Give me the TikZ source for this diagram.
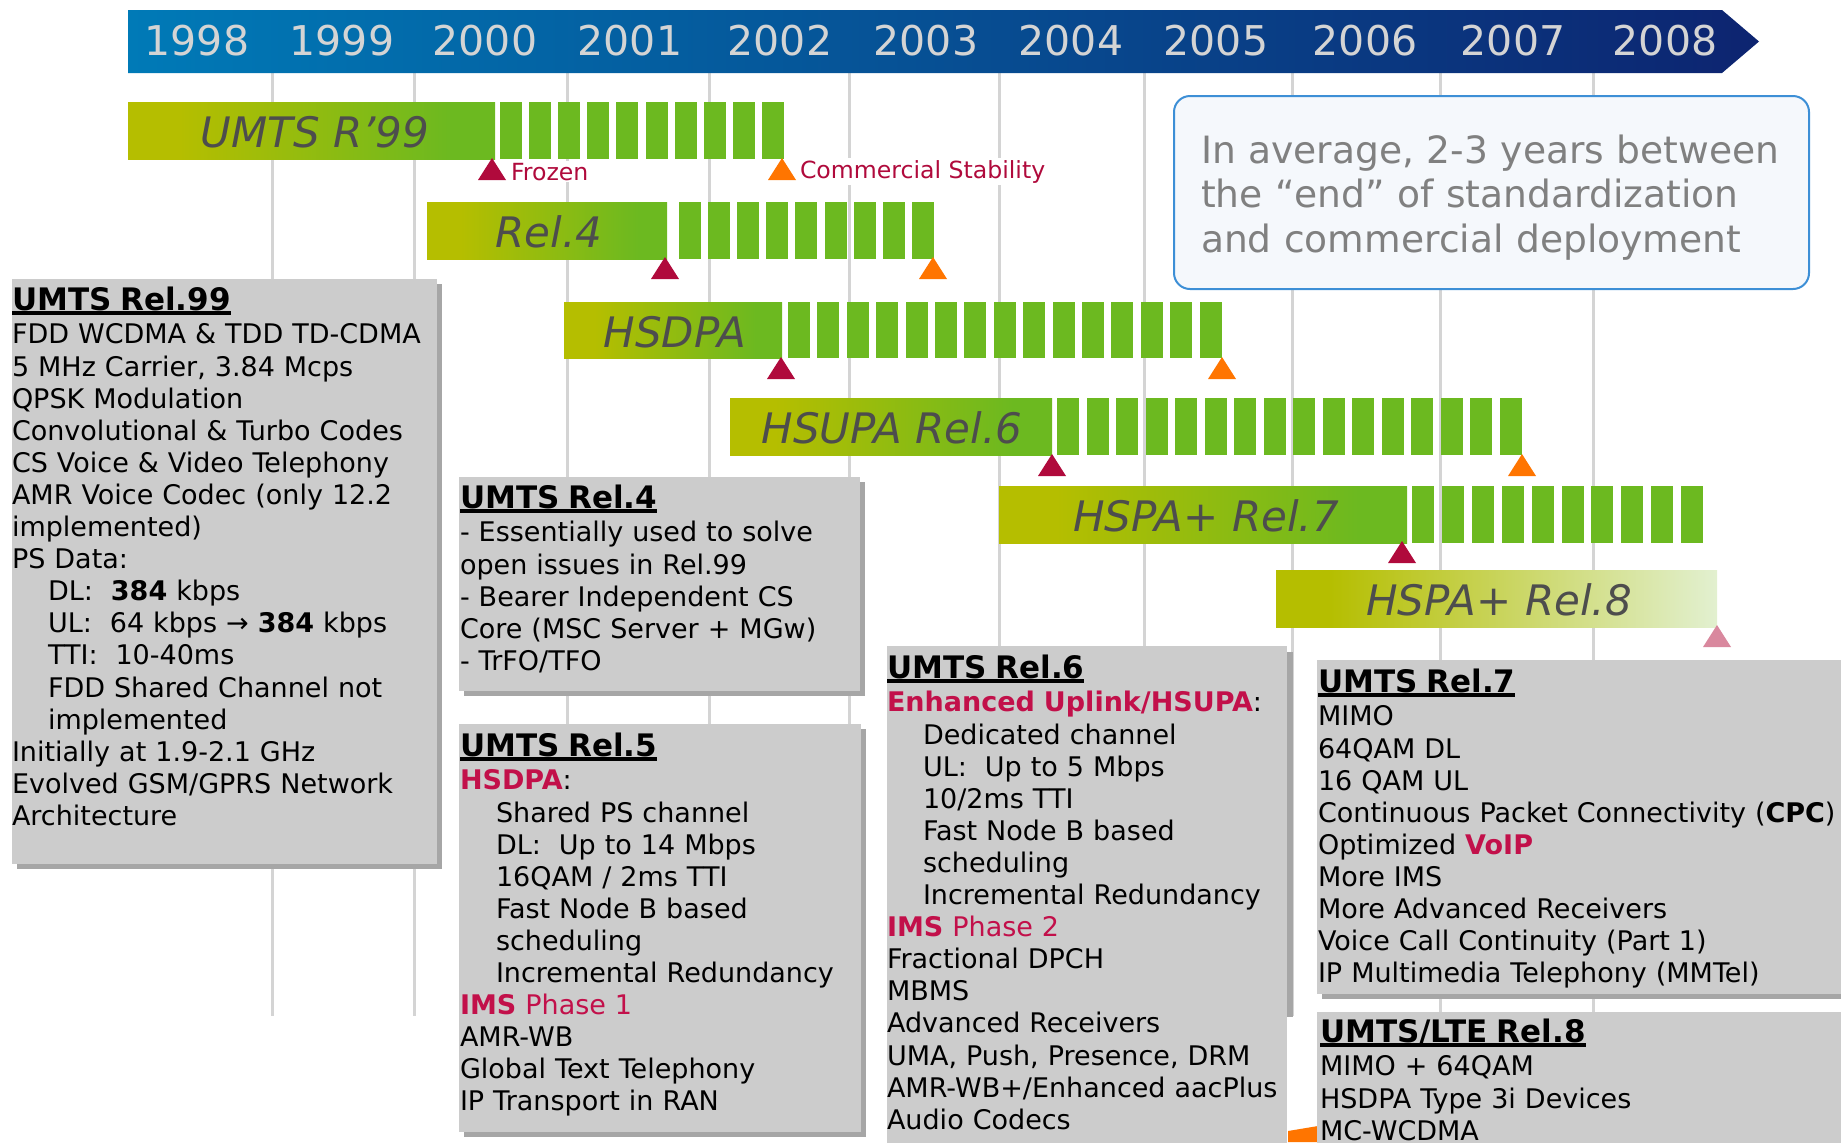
\documentclass[tikz,border=0pt]{standalone}
\usepackage{fontspec}
\setmainfont{DejaVu Sans}

\definecolor{bandL}{RGB}{0,122,183}
\definecolor{bandR}{RGB}{13,36,112}
\definecolor{barY}{RGB}{181,190,0}
\definecolor{barG}{RGB}{108,185,32}
\definecolor{barPale}{RGB}{226,240,208}
\definecolor{frozenred}{RGB}{176,10,60}
\definecolor{stableorange}{RGB}{255,117,0}
\definecolor{futurepink}{RGB}{217,136,158}
\definecolor{gridgray}{RGB}{212,212,212}
\definecolor{boxgray}{RGB}{204,204,204}
\definecolor{shadowgray}{RGB}{166,166,166}
\definecolor{hlred}{RGB}{194,16,74}
\definecolor{noteblue}{RGB}{61,143,214}
\definecolor{notefill}{RGB}{245,248,252}
\definecolor{labelgray}{RGB}{77,77,77}

\pgfdeclarehorizontalshading{relshade}{100bp}{color(0bp)=(barY); color(32bp)=(barY); color(69bp)=(barG); color(100bp)=(barG)}
\pgfdeclarehorizontalshading{lteshade}{100bp}{color(0bp)=(barY); color(31bp)=(barY); color(75bp)=(barPale); color(100bp)=(barPale)}

\newsavebox{\titlebox}
\newcommand{\boxtitle}[1]{\sbox{\titlebox}{\fontsize{15.5}{16.05}\selectfont\bfseries #1}\rlap{\rule[-2.6pt]{\wd\titlebox}{2pt}}\usebox{\titlebox}}
\newcommand{\ind}{\hspace*{18pt}}

\begin{document}
\begin{tikzpicture}[x=0.5pt, y=-0.5pt,
  every node/.style={inner sep=0pt, outer sep=0pt},
  yearlabel/.style={anchor=base, text=gridgray, font=\fontsize{20.5}{24}\selectfont},
  rellabel/.style={anchor=base, text=labelgray, font=\fontsize{21}{24}\selectfont\itshape},
  segment/.style={fill=barG},
  gridline/.style={draw=gridgray, line width=1.5pt},
  boxfill/.style={fill=boxgray},
  boxshadow/.style={fill=shadowgray},
  boxtext/.style={anchor=base west, align=left, font=\fontsize{13.5}{16.05}\selectfont},
  milelabel/.style={anchor=base west, fill=white, inner sep=1pt, text=frozenred, font=\fontsize{11.8}{14}\selectfont}]
\useasboundingbox (0,0) rectangle (1841,1142);
\clip (0,0) rectangle (1841,1142);

\foreach \x in {272,414,567,709,849,999,1144,1292,1440,1593}
  \draw[gridline] (\x,73) -- (\x,1016);

\shade[left color=bandL, right color=bandR] (128,10) -- (1722,10) -- (1759,41.5) -- (1722,73) -- (128,73) -- cycle;
\foreach \x/\yr in {197/1998,342/1999,485/2000,630/2001,780/2002,926/2003,1071/2004,1216/2005,1365/2006,1513/2007,1665/2008}
  \node[yearlabel] (y\yr) at (\x,55) {\yr};

\shade[shading=relshade] (128,102) rectangle (495,159);
\foreach \i in {0,...,9} \fill[segment] ({500+\i*29.1},102) rectangle ++(22,57);
\node[rellabel] (lr99) at (315,147) {UMTS R’99};
\fill[frozenred] (478,180) -- (492,158) -- (506,180) -- cycle;
\fill[stableorange] (768,180) -- (782,158) -- (796,180) -- cycle;
\node[milelabel] (frozen) at (509,180) {Frozen};
\node[milelabel] (stable) at (798,178) {Commercial Stability};

\shade[shading=relshade] (427,202) rectangle (667,259);
\foreach \i in {0,...,8} \fill[segment] ({679+\i*29.1},202) rectangle ++(22,57);
\node[rellabel] (lrel4) at (549,247) {Rel.4};
\fill[frozenred] (651,279) -- (665,257) -- (679,279) -- cycle;
\fill[stableorange] (919,279) -- (933,257) -- (947,279) -- cycle;

\shade[shading=relshade] (564,302) rectangle (782,358);
\foreach \i in {0,...,14} \fill[segment] ({788+\i*29.4},302) rectangle ++(22,56);
\node[rellabel] (lhsdpa) at (675,347) {HSDPA};
\fill[frozenred] (767,379) -- (781,357) -- (795,379) -- cycle;
\fill[stableorange] (1208,379) -- (1222,357) -- (1236,379) -- cycle;

\shade[shading=relshade] (730,398) rectangle (1052,455);
\foreach \i in {0,...,15} \fill[segment] ({1057+\i*29.5},398) rectangle ++(22,57);
\node[rellabel] (lhsupa) at (892,443) {HSUPA Rel.6};
\fill[frozenred] (1038,476) -- (1052,454) -- (1066,476) -- cycle;
\fill[stableorange] (1508,476) -- (1522,454) -- (1536,476) -- cycle;

\shade[shading=relshade] (999,486) rectangle (1407,543);
\foreach \i in {0,...,9} \fill[segment] ({1412+\i*29.9},486) rectangle ++(22,57);
\node[rellabel] (lrel7) at (1206,531) {HSPA+ Rel.7};
\fill[frozenred] (1388,563) -- (1402,541) -- (1416,563) -- cycle;

\shade[shading=lteshade] (1276,570) rectangle (1717,627);
\node[rellabel] (lrel8) at (1499,615) {HSPA+ Rel.8};
\fill[futurepink] (1703,647) -- (1717,625) -- (1731,647) -- cycle;

\draw[draw=noteblue, fill=notefill, line width=1pt, rounded corners=8pt] (1174,96) rectangle (1809,289);
\node[anchor=base west, align=left, text=gray, font=\fontsize{18.8}{22.25}\selectfont, text width=320pt] (note) at (1201,163)
  {In average, 2-3 years between\\the “end” of standardization\\and commercial deployment};

\fill[boxshadow] (17,284) rectangle (442,869);
\fill[boxfill] (12,279) rectangle (437,864);
\node[boxtext, text width=230pt] (t99) at (12,310) {\boxtitle{UMTS Rel.99}\\[0.9pt]
FDD WCDMA \& TDD TD-CDMA\\
5 MHz Carrier, 3.84 Mcps\\
QPSK Modulation\\
Convolutional \& Turbo Codes\\
CS Voice \& Video Telephony\\
AMR Voice Codec (only 12.2\\
implemented)\\
PS Data:\\
\ind DL:\ \ \textbf{384} kbps\\
\ind UL:\ \ 64 kbps → \textbf{384} kbps\\
\ind TTI:\ \ 10-40ms\\
\ind FDD Shared Channel not\\
\ind implemented\\
Initially at 1.9-2.1 GHz\\
Evolved GSM/GPRS Network\\
Architecture};

\fill[boxshadow] (464,482) rectangle (865,696);
\fill[boxfill] (459,477) rectangle (860,691);
\node[boxtext, text width=220pt] (t4) at (460,508) {\boxtitle{UMTS Rel.4}\\[0.9pt]
- Essentially used to solve\\
open issues in Rel.99\\
- Bearer Independent CS\\
Core (MSC Server + MGw)\\
- TrFO/TFO};

\fill[boxshadow] (464,729) rectangle (866,1137);
\fill[boxfill] (459,724) rectangle (861,1132);
\node[boxtext, text width=220pt] (t5) at (460,756) {\boxtitle{UMTS Rel.5}\\[0.9pt]
\textcolor{hlred}{\textbf{HSDPA}}:\\
\ind Shared PS channel\\
\ind DL:\ \ Up to 14 Mbps\\
\ind 16QAM / 2ms TTI\\
\ind Fast Node B based\\
\ind scheduling\\
\ind Incremental Redundancy\\
{\color{hlred}\textbf{IMS} Phase 1}\\
AMR-WB\\
Global Text Telephony\\
IP Transport in RAN};

\fill[boxshadow] (1287,652) rectangle (1293,1017);
\fill[boxfill] (887,646) rectangle (1287,1150);
\node[boxtext, text width=220pt] (t6) at (887,678) {\boxtitle{UMTS Rel.6}\\[0.9pt]
\textcolor{hlred}{\textbf{Enhanced Uplink/HSUPA}}:\\
\ind Dedicated channel\\
\ind UL:\ \ Up to 5 Mbps\\
\ind 10/2ms TTI\\
\ind Fast Node B based\\
\ind scheduling\\
\ind Incremental Redundancy\\
{\color{hlred}\textbf{IMS} Phase 2}\\
Fractional DPCH\\
MBMS\\
Advanced Receivers\\
UMA, Push, Presence, DRM\\
AMR-WB+/Enhanced aacPlus\\
Audio Codecs};

\fill[boxshadow] (1322,665) rectangle (1850,999);
\fill[boxfill] (1317,660) rectangle (1850,994);
\node[boxtext, text width=300pt] (t7) at (1318,692) {\boxtitle{UMTS Rel.7}\\[0.9pt]
MIMO\\
64QAM DL\\
16 QAM UL\\
Continuous Packet Connectivity (\textbf{CPC})\\
Optimized \textcolor{hlred}{\textbf{VoIP}}\\
More IMS\\
More Advanced Receivers\\
Voice Call Continuity (Part 1)\\
IP Multimedia Telephony (MMTel)};

\fill[stableorange] (1288,1142) -- (1288,1131) -- (1318,1126) -- (1318,1142) -- cycle;
\fill[boxfill] (1317,1012) rectangle (1850,1150);
\node[boxtext, text width=300pt] (t8) at (1320,1042) {\boxtitle{UMTS/LTE Rel.8}\\[0.9pt]
MIMO + 64QAM\\
HSDPA Type 3i Devices\\
MC-WCDMA};
\end{tikzpicture}
\end{document}
